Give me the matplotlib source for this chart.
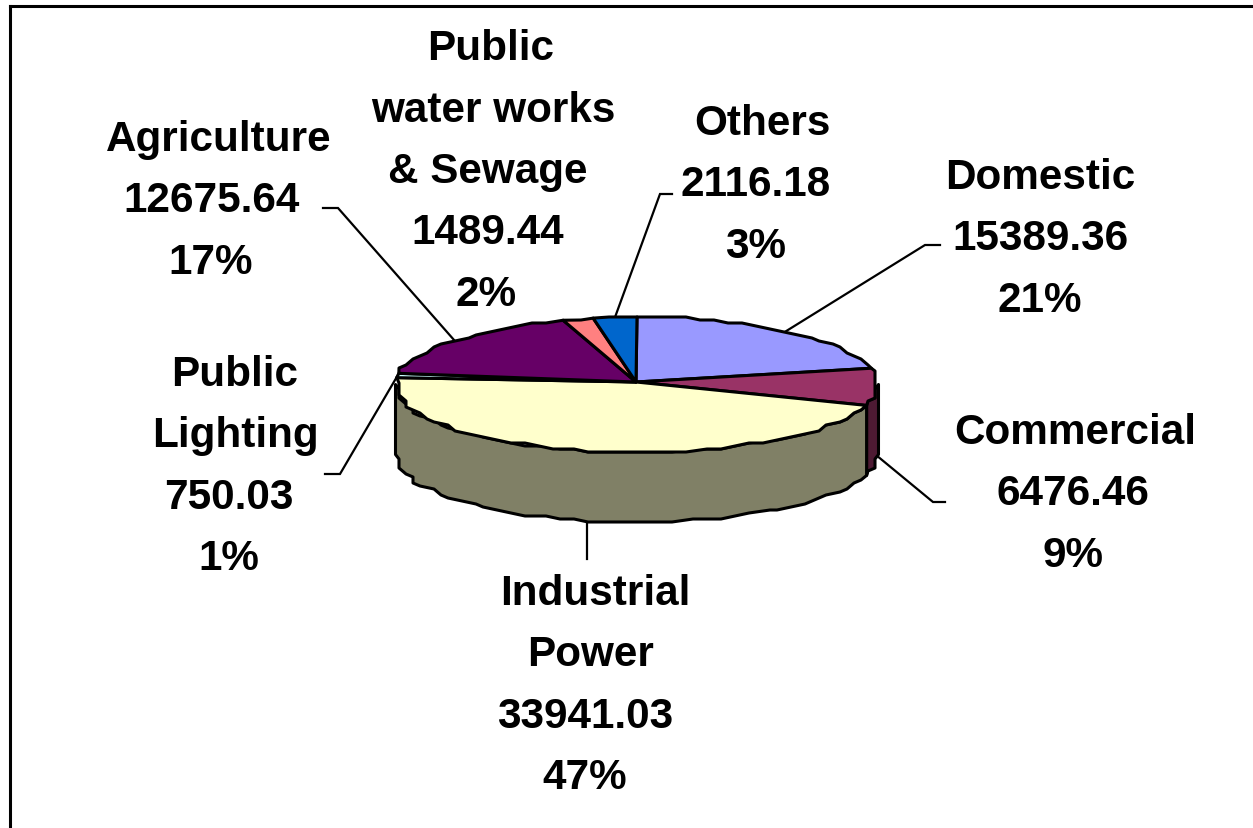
import numpy as np
import matplotlib
matplotlib.use("Agg")
import matplotlib.pyplot as plt

categories = ["Domestic", "Commercial", "Industrial\nPower", "Public\nLighting",
              "Agriculture", "Public\nwater works\n& Sewage", "Others"]
values = [15389.36, 6476.46, 33941.03, 750.03, 12675.64, 1489.44, 2116.18]
top_colors = ["#9999FF", "#993366", "#FFFFCC", "#CCFFFF", "#660066", "#FF8080", "#0066CC"]
wall_colors = {1: "#4D1A33", 2: "#808066"}

W, H = 1253, 829
L, T = 10, 7
CX, CY, RX, RY, DEPTH = 637.0, 385.5, 241.5, 67.5, 70.0
APEX = (636.0, 383.0)
EDGE = 2.2
FONT = 30.4

layout = {
    0: dict(y=178, xs=[1040, 1040, 1040]),
    1: dict(y=433, xs=[1075, 1073, 1073]),
    2: dict(y=594, xs=[595, 591, 585, 585]),
    3: dict(y=375, xs=[235, 235, 229, 229]),
    4: dict(y=140, xs=[219, 212, 211]),
    5: dict(y=49, xs=[491, 493, 488, 488, 486]),
    6: dict(y=124, xs=[762, 756, 756]),
}
STEP = 61.5

leaders = {
    0: [(925, 246), (940, 246)],
    1: [(933, 503), (945, 503)],
    2: [(None, 560)],
    3: [(340, 475), (325, 475)],
    4: [(338, 209), (323, 209)],
    6: [(660, 195), (672, 195)],
}

fig = plt.figure(figsize=(W / 100, H / 100), dpi=100, facecolor="white")
ax = fig.add_axes([L / W, 0, 1 - L / W, 1 - T / H])
ax.set_xlim(L, W)
ax.set_ylim(H, T)
for side in ("right", "bottom"):
    ax.spines[side].set_visible(False)
for side in ("left", "top"):
    ax.spines[side].set_linewidth(2.2)
ax.set_xticks([])
ax.set_yticks([])

vals = np.array(values)
total = vals.sum()
edges = np.concatenate([[0], np.cumsum(vals) / total]) * 360.0


def rim(a0, a1, dy=0.0):
    n = max(2, int(abs(a1 - a0) / 4) + 2)
    a = np.radians(np.linspace(a0, a1, n))
    x = CX + RX * np.sin(a)
    y = CY - RY * np.cos(a)
    # coarse vertex grid: the original outline is a low-resolution, faceted curve
    xq = np.clip(np.round(x / 7) * 7, CX - RX, CX + RX)
    yq = np.clip(np.round(y / 3) * 3, CY - RY, CY + RY)
    xq[[0, -1]] = x[[0, -1]]
    yq[[0, -1]] = y[[0, -1]]
    return xq, yq + dy


for i, col in wall_colors.items():
    a0, a1 = max(edges[i], 90.0), min(edges[i + 1], 270.0)
    x0, y0 = rim(a0, a1)
    x1, y1 = rim(a1, a0, DEPTH)
    ax.fill(np.r_[x0, x1], np.r_[y0, y1], facecolor=col, edgecolor="black",
            linewidth=EDGE, joinstyle="round", zorder=2)

for i, col in enumerate(top_colors):
    x, y = rim(edges[i], edges[i + 1])
    ax.fill(np.r_[APEX[0], x], np.r_[APEX[1], y], facecolor=col, edgecolor="black",
            linewidth=EDGE, joinstyle="round", zorder=3)

mids = (edges[:-1] + edges[1:]) / 2
for i, pts in leaders.items():
    a = np.radians(mids[i])
    sx = CX + RX * np.sin(a)
    sy = CY - RY * np.cos(a)
    if 90 < mids[i] < 270:
        sy += DEPTH
    xs = [sx] + [sx if p[0] is None else p[0] for p in pts]
    ys = [sy] + [p[1] for p in pts]
    ax.plot(xs, ys, color="black", linewidth=1.6, zorder=1, solid_joinstyle="miter")

for i, name in enumerate(categories):
    lines = name.split("\n") + [f"{values[i]:.2f}", f"{values[i] / total:.0%}"]
    for j, line in enumerate(lines):
        ax.text(layout[i]["xs"][j], layout[i]["y"] + j * STEP, line,
                family="Liberation Sans", weight="bold", fontsize=FONT,
                ha="center", va="center", color="black", zorder=5)

fig.savefig("out.png", dpi=100, facecolor="white")
